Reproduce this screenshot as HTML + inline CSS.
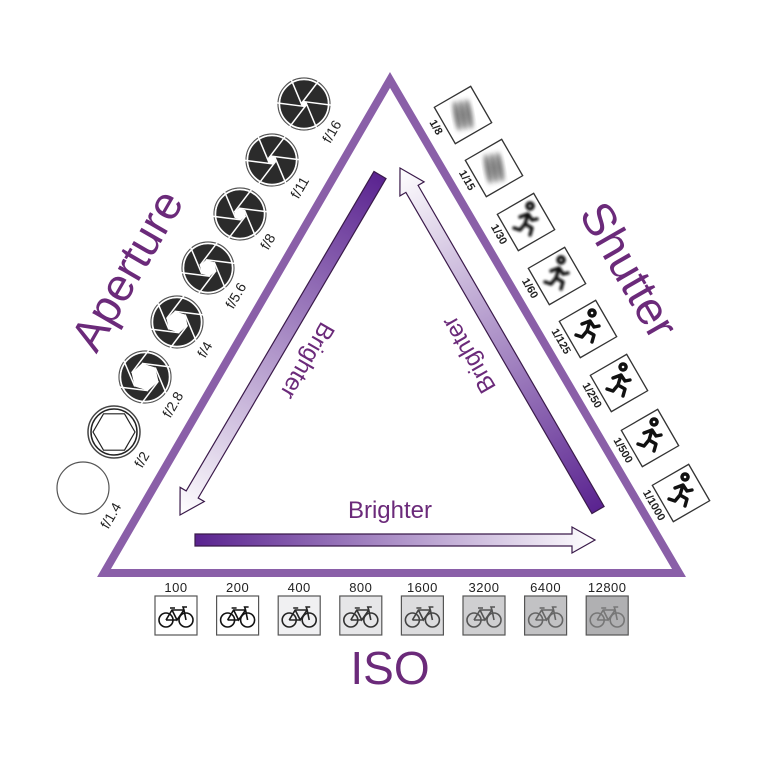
<!DOCTYPE html>
<html><head><meta charset="utf-8"><style>
html,body{margin:0;padding:0;background:#fff;width:768px;height:768px;overflow:hidden}
text{font-family:"Liberation Sans",sans-serif}
</style></head><body>
<svg id="s" width="768" height="768" viewBox="0 0 768 768" xmlns="http://www.w3.org/2000/svg">
<defs>
<linearGradient id="gL" x1="380" y1="175" x2="180" y2="515" gradientUnits="userSpaceOnUse"><stop offset="0" stop-color="#5a2390"/><stop offset="1" stop-color="#ffffff"/></linearGradient>
<linearGradient id="gR" x1="598" y1="510" x2="400" y2="168" gradientUnits="userSpaceOnUse"><stop offset="0" stop-color="#5a2390"/><stop offset="1" stop-color="#ffffff"/></linearGradient>
<linearGradient id="gB" x1="195" y1="540" x2="595" y2="540" gradientUnits="userSpaceOnUse"><stop offset="0" stop-color="#5a2390"/><stop offset="1" stop-color="#ffffff"/></linearGradient>
<filter id="bl" x="-50%" y="-50%" width="200%" height="200%"><feGaussianBlur stdDeviation="2.5"/></filter>
<filter id="bl2" x="-50%" y="-50%" width="200%" height="200%"><feGaussianBlur stdDeviation="1.2"/></filter>
<g id="bike" fill="none" stroke-width="1.6">
<circle cx="-10" cy="4" r="7"/><circle cx="10" cy="4" r="7"/>
<path d="M-10 4 L-4 -6 L8 -6 L10 4 M-4 -6 L1 4 L8 -6 M1 4 L-10 4 M-6 -8 L-1 -8 M8 -6 L7 -9 L11 -9"/>
</g>
<path id="run" d="M4 -13 a3 3 0 1 1 0.1 0 Z M-6 -5 L2 -8 L6 -2 L11 -3 M2 -8 L-1 2 L6 6 L4 13 M-1 2 L-6 8 L-12 6" fill="none" stroke-width="3.4" stroke-linecap="round" stroke-linejoin="round"/>
</defs>
<polygon points="390,80 104,573 679,573" fill="none" stroke="#8a5fa8" stroke-width="8" stroke-linejoin="miter"/>
<g stroke="#3a1a4a" stroke-width="1.2">
<polygon fill="url(#gL)" points="373.97,171.45 186.2,490.9 180.1,487.3 180,515 204.3,501.5 198.2,498.0 386.03,178.55"/>
<polygon fill="url(#gR)" points="591.9,513.5 405.9,192.4 399.9,195.9 400,168 424.1,181.9 418.1,185.4 604.1,506.5"/>
<polygon fill="url(#gB)" points="195,534 572,534 572,527 595,540 572,553 572,546 195,546"/>
</g>
<g fill="#6b2a7a">
<text x="390" y="518" font-size="24" text-anchor="middle">Brighter</text>
<text transform="translate(306,360) rotate(120)" font-size="24" text-anchor="middle" dominant-baseline="middle">Brighter</text>
<text transform="translate(470,354) rotate(-120)" font-size="24" text-anchor="middle" dominant-baseline="middle">Brighter</text>
<text transform="translate(130,272) rotate(-60)" font-size="46" text-anchor="middle" dominant-baseline="middle">Aperture</text>
<text transform="translate(626,272) rotate(60)" font-size="46" text-anchor="middle" dominant-baseline="middle">Shutter</text>
<text x="390" y="684" font-size="46" text-anchor="middle">ISO</text>
</g>
<g id="ap"></g><g id="sh"></g><g id="iso"></g>
</svg>
<script>
var NS="http://www.w3.org/2000/svg";
function el(p,t,a,txt){var e=document.createElementNS(NS,t);for(var k in a)e.setAttribute(k,a[k]);if(txt)e.textContent=txt;p.appendChild(e);return e;}
var ap=document.getElementById('ap');
var A=[["f/1.4",83,488,-1],["f/2",114,432,20],["f/2.8",145,377,14],["f/4",177,322,11],["f/5.6",208,268,8.5],["f/8",240,214,6],["f/11",272,160,4],["f/16",304,104,2.5]];
A.forEach(function(a){
 var cx=a[1],cy=a[2],r=a[3];
 if(r<0){el(ap,'circle',{cx:cx,cy:cy,r:26,fill:'#fff',stroke:'#555','stroke-width':1.2});}
 else if(r>18){el(ap,'circle',{cx:cx,cy:cy,r:26,fill:'#fff',stroke:'#444','stroke-width':1.5});
  el(ap,'circle',{cx:cx,cy:cy,r:23,fill:'none',stroke:'#222','stroke-width':1.5});
  var pts=[];for(var i=0;i<6;i++){var t=i*Math.PI/3;pts.push((cx+21*Math.cos(t))+','+(cy+21*Math.sin(t)));}
  el(ap,'polygon',{points:pts.join(' '),fill:'#fff',stroke:'#222','stroke-width':1.2});}
 else{el(ap,'circle',{cx:cx,cy:cy,r:26,fill:'#fff',stroke:'#555','stroke-width':1.2});
  el(ap,'circle',{cx:cx,cy:cy,r:24,fill:'#2b2b2b'});
  var pts=[];for(var i=0;i<6;i++){var t=i*Math.PI/3+0.3;var x=cx+r*Math.cos(t),y=cy+r*Math.sin(t);pts.push(x+','+y);
   var t2=t+Math.PI/2+0.35;el(ap,'line',{x1:x,y1:y,x2:x+30*Math.cos(t2),y2:y+30*Math.sin(t2),stroke:'#fff','stroke-width':1.5});}
  el(ap,'polygon',{points:pts.join(' '),fill:'#fff'});
  el(ap,'circle',{cx:cx,cy:cy,r:24.5,fill:'none',stroke:'#fff','stroke-width':1.5});}
 el(ap,'text',{transform:'translate('+(cx+32)+','+(cy+30)+') rotate(-60)','font-size':14,'text-anchor':'middle',fill:'#222'},a[0]);
});
var sh=document.getElementById('sh');
var S=[["1/8",463,115],["1/15",494,168],["1/30",526,222],["1/60",557,276],["1/125",588,329],["1/250",619,383],["1/500",650,438],["1/1000",681,493]];
S.forEach(function(s,i){
 var g=el(sh,'g',{transform:'translate('+s[1]+','+s[2]+') rotate(-30)'});
 el(g,'rect',{x:-21,y:-21,width:42,height:42,fill:'#fff',stroke:'#333','stroke-width':1.3});
 if(i<2){for(var k=-1;k<=1;k++)el(g,'ellipse',{cx:k*6,cy:0,rx:3,ry:15,fill:'#333',opacity:0.7,filter:'url(#bl)',transform:'rotate(20)'});}
 else{var f=i<4?'url(#bl2)':'';var u=el(g,'use',{href:'#run',stroke:'#111',fill:'none'});u.setAttribute('transform','rotate(30)');if(f)u.setAttribute('filter',f);}
 el(sh,'text',{transform:'translate('+(s[1]-30)+','+(s[2]+14)+') rotate(60)','font-size':11,'font-weight':'bold','text-anchor':'middle',fill:'#222'},s[0]);
});
var iso=document.getElementById('iso');
var I=["100","200","400","800","1600","3200","6400","12800"];
var fills=["#fff","#fff","#f0f0f2","#e6e6e8","#dcdcde","#cfcfd1","#c2c2c4","#b0b0b2"];
var strokes=["#111","#111","#222","#333","#444","#555","#666","#777"];
I.forEach(function(t,i){
 var x=155+i*61.6;
 el(iso,'rect',{x:x,y:596,width:42,height:39,fill:fills[i],stroke:'#555','stroke-width':1.2});
 el(iso,'text',{x:x+21,y:592,'font-size':13,'text-anchor':'middle',fill:'#222','letter-spacing':'0.5'},t);
 var u=el(iso,'use',{href:'#bike',stroke:strokes[i]});u.setAttribute('transform','translate('+(x+21)+',616)');
});
</script>
</body></html>
